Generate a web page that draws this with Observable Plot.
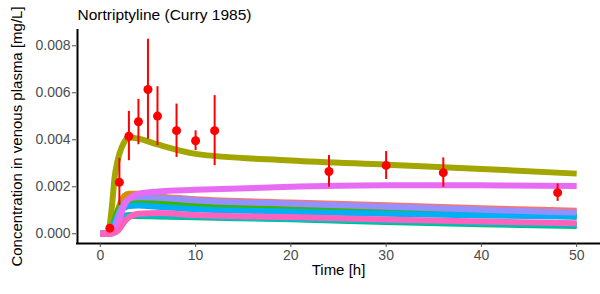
<!DOCTYPE html>
<html><head><meta charset="utf-8">
<script src="https://cdn.jsdelivr.net/npm/d3@7"></script>
<script src="https://cdn.jsdelivr.net/npm/@observablehq/plot@0.6"></script>
<style>body{margin:0;background:#fff} #chart{width:600px;height:294px}</style>
</head><body><div id="chart"></div>
<script>
const chartTitle = "Nortriptyline (Curry 1985)";
const xTitle = "Time [h]";
const yTitle = "Concentration in venous plasma [mg/L]";
const xTicks = [0, 10, 20, 30, 40, 50];
const yTicks = [0, 0.002, 0.004, 0.006, 0.008];

const times = [0, 0.75, 1, 1.25, 1.5, 1.75, 2, 2.5, 3, 4, 6, 10, 20, 30, 40, 50];
const seriesNames = ["S1","S2","S3","S4","S5","S6","S7","S8","S9","S10"];
const seriesColors = ["#F8766D","#D89000","#A3A500","#39B600","#00BF7D","#00BFC4","#00B0F6","#9590FF","#E76BF3","#FF62BC"];
const s1 = [0, 0, 0.00003, 0.0001, 0.0003, 0.0006, 0.0009, 0.0013, 0.0015, 0.0016, 0.00158, 0.00147, 0.00133, 0.00121, 0.00109, 0.00098];
const s2 = [0, 0, 0.00005, 0.0002, 0.0005, 0.0009, 0.0012, 0.0016, 0.0017, 0.0017, 0.0016, 0.00135, 0.00118, 0.00104, 0.00093, 0.00083];
const s3 = [0, 0, 0.0004, 0.0013, 0.0024, 0.003, 0.0034, 0.0039, 0.0041, 0.00405, 0.0038, 0.0034, 0.00312, 0.00294, 0.00276, 0.00256];
const s4 = [0, 0, 0.0001, 0.0003, 0.0006, 0.0009, 0.0011, 0.0013, 0.00135, 0.00135, 0.00132, 0.00122, 0.00112, 0.00103, 0.00088, 0.00072];
const s5 = [0, 0, 0.0001, 0.0003, 0.0005, 0.0006, 0.00068, 0.00074, 0.00076, 0.00076, 0.00074, 0.0007, 0.00062, 0.0005, 0.00041, 0.00033];
const s6 = [0, 0, 0.0001, 0.0003, 0.0005, 0.00062, 0.0007, 0.00077, 0.0008, 0.0008, 0.00078, 0.00073, 0.00064, 0.00054, 0.00046, 0.00038];
const s7 = [0, 0, 0.00005, 0.0002, 0.0004, 0.0007, 0.0009, 0.0011, 0.00118, 0.0012, 0.00115, 0.00104, 0.00094, 0.00085, 0.00078, 0.00073];
const s8 = [0, 0, 0.00002, 0.0001, 0.0003, 0.0006, 0.0009, 0.0013, 0.00148, 0.00155, 0.00153, 0.00142, 0.00128, 0.00115, 0.00102, 0.0009];
const s9 = [0, 0, 0, 0.00002, 0.0001, 0.0003, 0.0006, 0.0012, 0.0015, 0.0017, 0.0018, 0.00187, 0.002, 0.00207, 0.00206, 0.00203];
const s10 = [0, 0, 0, 0.00001, 0.00005, 0.0001, 0.0002, 0.0005, 0.0007, 0.00085, 0.00088, 0.0008, 0.00071, 0.00061, 0.00052, 0.00045];
const seriesValues = [s1, s2, s3, s4, s5, s6, s7, s8, s9, s10];

const obsTime = [1, 2, 3, 4, 5, 6, 8, 10, 12, 24, 30, 36, 48];
const obsConc = [0.00024, 0.00219, 0.00415, 0.00477, 0.00614, 0.00501, 0.00439, 0.00396, 0.00439, 0.00265, 0.00291, 0.0026, 0.00175];
const obsLow  = [0.00016, 0.0012, 0.00311, 0.00379, 0.00402, 0.00375, 0.00325, 0.00354, 0.0029, 0.00198, 0.00231, 0.00198, 0.00138];
const obsHigh = [0.00032, 0.00321, 0.00521, 0.00572, 0.00828, 0.00626, 0.00552, 0.00438, 0.00588, 0.00333, 0.0035, 0.00323, 0.00212];

const sim = [];
seriesNames.forEach((name, i) => times.forEach((t, j) => sim.push({time: t, conc: seriesValues[i][j], series: name})));
const obs = obsTime.map((t, i) => ({time: t, conc: obsConc[i], lo: obsLow[i], hi: obsHigh[i]}));

const font = "'Liberation Sans', Arial, sans-serif";
const xDomain = [-2.5, 52.5];
const yDomain = [-0.000414, 0.008694];

const chart = Plot.plot({
  width: 600, height: 294,
  marginLeft: 76, marginRight: 0, marginTop: 29, marginBottom: 51,
  style: {fontFamily: font, fontSize: "14px", background: "#fff", color: "#000"},
  x: {domain: xDomain, axis: null},
  y: {domain: yDomain, axis: null},
  color: {domain: seriesNames, range: seriesColors},
  marks: [
    Plot.line(sim, {x: "time", y: "conc", z: "series", stroke: "series", strokeWidth: 6, curve: "monotone-x", strokeLinecap: "butt", strokeLinejoin: "round"}),
    Plot.ruleX(obs, {x: "time", y1: "lo", y2: "hi", stroke: "#FF0000", strokeWidth: 2}),
    Plot.dot(obs, {x: "time", y: "conc", r: 4.5, fill: "#FF0000", stroke: "none"}),
    Plot.ruleX([xDomain[0]], {stroke: "#000", strokeWidth: 2, dx: 1}),
    Plot.ruleY([yDomain[0]], {stroke: "#000", strokeWidth: 2}),
    Plot.axisX({ticks: xTicks, tickSize: 4, tickPadding: 3, color: "#4D4D4D", fontSize: 14, label: null, tickFormat: d3.format("d")}),
    Plot.axisY({ticks: yTicks, tickSize: 4, tickPadding: 2, color: "#4D4D4D", fontSize: 14, label: null, tickFormat: d3.format(".3f")}),
    Plot.text([xTitle], {frameAnchor: "bottom", dy: 31, fontSize: 15, fill: "#000"}),
    Plot.text([yTitle], {frameAnchor: "left", textAnchor: "middle", rotate: -90, dx: -59, fontSize: 15, fill: "#000"}),
    Plot.text([chartTitle], {frameAnchor: "top-left", textAnchor: "start", lineAnchor: "bottom", dx: 1, dy: -10, fontSize: 15.5, fill: "#000"})
  ]
});
document.getElementById("chart").appendChild(chart);
</script>
</body></html>
